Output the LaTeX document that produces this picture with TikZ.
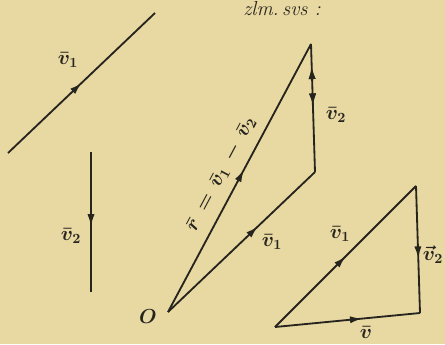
\documentclass[tikz,border=0pt]{standalone}
\usetikzlibrary{arrows.meta,decorations.markings}
\definecolor{paper}{RGB}{232,216,162}
\definecolor{ink}{RGB}{38,36,30}
\tikzset{
  vec/.style={draw=ink,line width=1.3pt},
  midarrow/.style={postaction={decorate},
    decoration={markings,mark=at position #1 with {\arrow{Latex[length=3mm,width=1.8mm]}}}},
  backarrow/.style={postaction={decorate},
    decoration={markings,mark=at position #1 with {\arrowreversed{Latex[length=3mm,width=1.8mm]}}}},
  openarrow/.style={postaction={decorate},
    decoration={markings,mark=at position #1 with {\arrow{Latex[open,length=3mm,width=1.8mm]}}}},
  lbl/.style={text=ink,inner sep=1pt,font=\Large\boldmath}
}
\begin{document}
\begin{tikzpicture}[x=0.025cm,y=-0.025cm]
    \fill[paper] (0,0) rectangle (445,344);
    \useasboundingbox (0,0) rectangle (445,344);
    \node[lbl,font=\Large\itshape] (title) at (282,9) {zlm.\,svs :};
    % the two given vectors
    \coordinate (a1) at (8,153);
    \coordinate (a2) at (155,13);
    \coordinate (b1) at (91,152);
    \coordinate (b2) at (91,292);
    \draw[vec,midarrow=0.5] (a1) -- (a2);
    \draw[vec,midarrow=0.53] (b1) -- (b2);
    \node[lbl] (la) at (68,60) {$\bar{v}_1$};
    \node[lbl] (lb) at (71,236) {$\bar{v}_2$};
    % difference r = v1 - v2
    \coordinate (O) at (168,312);
    \coordinate (P) at (315,172);
    \coordinate (Q) at (311,44);
    \draw[vec,midarrow=0.61] (O) -- (P);
    \draw[vec,midarrow=0.82,backarrow=0.52] (P) -- (Q);
    \draw[vec,midarrow=0.53] (O) -- (Q);
    \node[lbl] (lo) at (148,317) {$O$};
    \node[lbl,rotate=62] (lr) at (221,174) {$\bar{r}\,=\,\bar{v}_1\,-\,\bar{v}_2$};
    \node[lbl] (lp) at (272,242) {$\bar{v}_1$};
    \node[lbl] (lq) at (336,115) {$\bar{v}_2$};
    % sum triangle
    \coordinate (S) at (275,327);
    \coordinate (T) at (416,186);
    \coordinate (U) at (420,313);
    \draw[vec,midarrow=0.5] (S) -- (T);
    \draw[vec,openarrow=0.57] (T) -- (U);
    \draw[vec,midarrow=0.6] (S) -- (U);
    \node[lbl] (ls) at (340,234) {$\bar{v}_1$};
    \node[lbl] (lt) at (433,255) {$\vec{v}_2$};
    \node[lbl] (lu) at (366,332) {$\bar{v}$};
\end{tikzpicture}
\end{document}
